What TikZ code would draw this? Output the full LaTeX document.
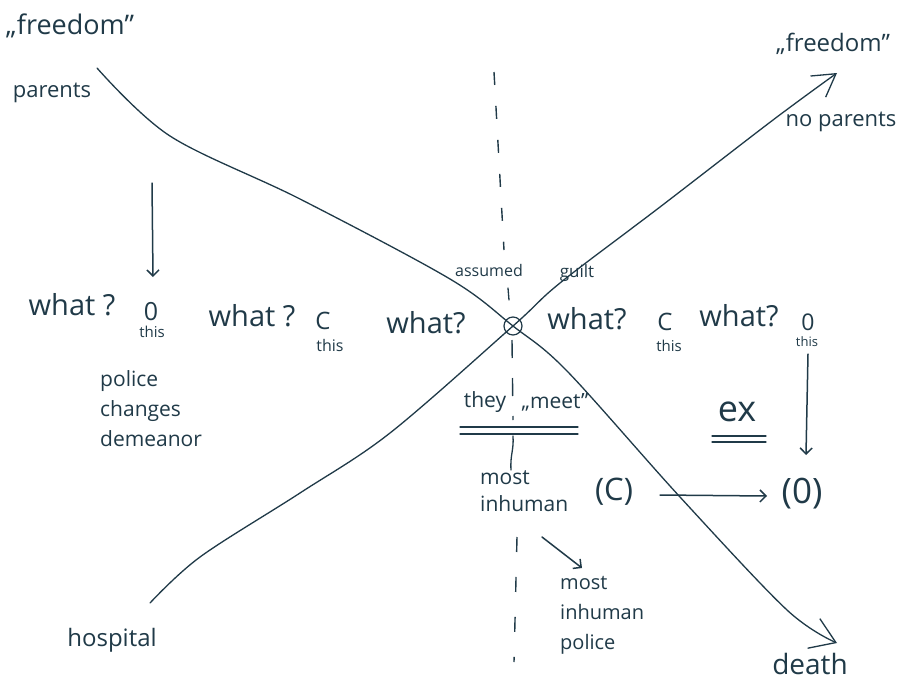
\documentclass[tikz,border=0pt]{standalone}
\usepackage{fontspec}
\setmainfont{Open Sans}
\usetikzlibrary{arrows.meta}
\definecolor{ink}{RGB}{32,58,72}
\begin{document}
\begin{tikzpicture}[x=1pt,y=-1pt,
  hand/.style={text=ink, inner sep=0pt, font=\fontsize{#1}{#1}\selectfont},
  block/.style 2 args={text=ink, inner sep=0pt, align=left, anchor=north west, font=\fontsize{#1}{#2}\selectfont},
  curve/.style={draw=ink, line width=1.3pt, line cap=round},
  arr/.style={draw=ink, line width=1.5pt, line cap=round, -{Straight Barb[length=6pt,width=12pt]}},
  dashl/.style={draw=ink, line width=1.4pt, dash pattern=on 13pt off 21pt},
  rule/.style={draw=ink, line width=1.3pt, line cap=round}]
\fill[white] (0,0) rectangle (906,683);
\useasboundingbox (0,0) rectangle (906,683);

% labels
\node[hand=27] (fl) at (70,26) {„freedom"};
\node[hand=22] (par) at (52,93) {parents};
\node[hand=24] (fr) at (833,44) {„freedom"};
\node[hand=22] (np) at (841,122) {no parents};
\node[hand=16] (as) at (489,270) {assumed};
\node[hand=17] (gu) at (577,273) {guilt};
\node[hand=29] (w1) at (72,305) {what ?};
\node[hand=25] (o1) at (151,312) {0};
\node[hand=15] (t1) at (152,332) {this};
\node[hand=29] (w2) at (252,316) {what ?};
\node[hand=24] (cc1) at (323,321) {C};
\node[hand=16] (t2) at (330,345) {this};
\node[hand=29] (w3) at (426,323) {what?};
\node[hand=29] (w4) at (587,319) {what?};
\node[hand=24] (cc2) at (665,322) {C};
\node[hand=15] (t3) at (669,346) {this};
\node[hand=29] (w5) at (739,316) {what?};
\node[hand=23] (o2) at (808,322) {0};
\node[hand=13] (t4) at (807,342) {this};
\node[block={21}{30}] (pcd) at (100,370) {police\\changes\\demeanor};
\node[hand=21] (they) at (485,402) {they};
\node[hand=21] (meet) at (555,402) {„meet"};
\node[block={21}{27}] (mi) at (480,470) {most\\inhuman};
\node[hand=31] (pc) at (614,492) {(C)};
\node[hand=35] (po) at (802,494) {(0)};
\node[hand=36] (ex) at (737,412) {ex};
\node[block={20}{30}] (mip) at (560,576) {most\\inhuman\\police};
\node[hand=24] (hosp) at (112,640) {hospital};
\node[hand=28] (death) at (810,664) {death};

% crossing
\node[draw=ink, circle, minimum size=18pt, inner sep=0pt, line width=1.2pt] (X) at (513,326) {};
\coordinate (c1s) at (97,68);
\coordinate (c1e) at (837,643);
\coordinate (c2s) at (150,603);
\coordinate (c2e) at (837,73);

\draw[curve, -{Straight Barb[length=24pt,width=32pt]}] plot[smooth, tension=0.55] coordinates {(c1s) (170,136) (300,199) (450,279) (X.center) (567,371) (680,497) (787,610) (c1e)};
\draw[curve, -{Straight Barb[length=22pt,width=26pt]}] plot[smooth, tension=0.55] coordinates {(c2s) (200,557) (300,493) (390,433) (X.center) (560,283) (660,207) (773,120) (c2e)};

% dashed vertical
\coordinate (d1) at (494,72);
\coordinate (d2) at (504,250);
\coordinate (d3) at (508,288);
\coordinate (d4) at (509,300);
\coordinate (d5) at (512,340);
\coordinate (d6) at (513,420);
\coordinate (d7) at (513,436);
\coordinate (d8) at (511,470);
\coordinate (d9) at (517,537);
\coordinate (d10) at (514,662);
\draw[dashl] (d1) -- (d2);
\draw[rule] (d3) -- (d4);
\draw[dashl, dash pattern=on 18pt off 20pt] (d5) -- (d6);
\draw[rule] (d7) .. controls (514,450) and (510,455) .. (d8);
\draw[dashl, dash pattern=on 15pt off 25pt] (d9) -- (d10);

% underlines
\coordinate (u1) at (460,427);
\coordinate (u2) at (578,427);
\coordinate (u3) at (460,434);
\coordinate (u4) at (578,434);
\draw[rule] (u1) -- (u2);
\draw[rule] (u3) -- (u4);
\coordinate (e1) at (712,436);
\coordinate (e2) at (766,436);
\coordinate (e3) at (712,442);
\coordinate (e4) at (766,442);
\draw[rule] (e1) -- (e2);
\draw[rule] (e3) -- (e4);

% arrows
\coordinate (a1s) at (152,183);
\coordinate (a1e) at (153,277);
\draw[arr] (a1s) -- (a1e);
\coordinate (a2s) at (808,354);
\coordinate (a2e) at (806,455);
\draw[arr] (a2s) -- (a2e);
\coordinate (a3s) at (660,495);
\coordinate (a3e) at (767,496);
\draw[arr] (a3s) -- (a3e);
\coordinate (a4s) at (542,537);
\coordinate (a4e) at (582,568);
\draw[arr] (a4s) -- (a4e);
\end{tikzpicture}
\end{document}
